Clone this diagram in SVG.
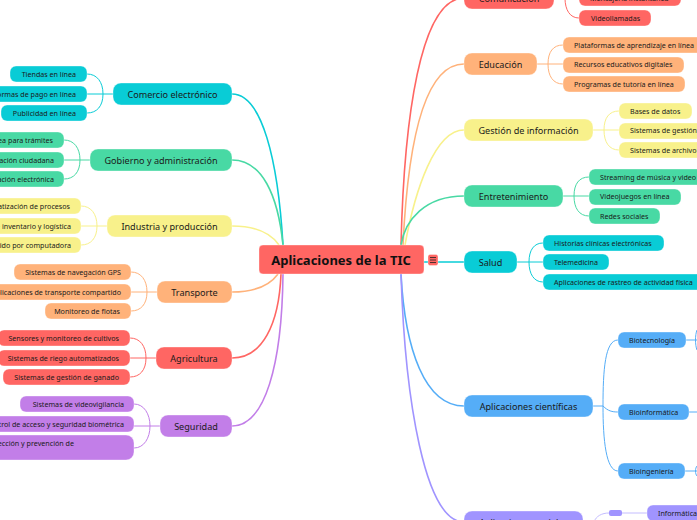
<svg xmlns="http://www.w3.org/2000/svg" width="697" height="520" viewBox="0 0 697 520">
<style>
text{font-family:"Noto Sans","Open Sans",sans-serif;fill:#1a1a1a}
.m{font-size:9.1px;text-anchor:middle}
.sl{font-size:7.15px;text-anchor:start}
.se{font-size:7.15px;text-anchor:end}
.r{stroke:#fff;stroke-opacity:.35;stroke-width:1}
.c{fill:none;stroke-width:1.6}
.t{fill:none;stroke-width:1}
.red{fill:#ff6663}.org{fill:#ffb27a}.yel{fill:#f8f18b}.grn{fill:#48d9a4}.cya{fill:#09ccd6}.blu{fill:#55adf7}.pur{fill:#a094ff}.vio{fill:#c27ee8}
</style>
<g id="connectors">
<g class="c">
<path d="M283 245C278 160 262 94 232 94" stroke="#09ccd6"/>
<path d="M283 245C278 195 262 160 232 160" stroke="#48d9a4"/>
<path d="M279 245C270 232 255 226 232 226" stroke="#f8f18b"/>
<path d="M278 274C270 285 255 292 232 292" stroke="#ffb27a"/>
<path d="M281 274C279 325 262 358 232 358" stroke="#ff6663"/>
<path d="M283 274C282 365 265 426 232 426" stroke="#c27ee8"/>
<path d="M401 245C404 120 420 -2 464 -2" stroke="#ff6663"/>
<path d="M403 245C408 140 425 64 464 64" stroke="#ffb27a"/>
<path d="M405 245C415 190 435 130 464 130" stroke="#f8f18b"/>
<path d="M401 245C405 220 425 196 464 196" stroke="#48d9a4"/>
<path d="M424 262H464" stroke="#09ccd6"/>
<path d="M401 274C405 350 425 406 464 406" stroke="#55adf7"/>
<path d="M401 274C405 400 425 522 464 522" stroke="#a094ff"/>
</g>
<g class="t" stroke="#09ccd6">
<path d="M113 94H87M103 94C103 82 97 74 87 74M103 94C103 106 97 113 87 113"/>
<path d="M517 262H543M529 262C529 250 534 243 543 243M529 262C529 274 534 282 543 282"/>
</g>
<g class="t" stroke="#48d9a4">
<path d="M90 160H64M80 160C80 148 74 140 64 140M80 160C80 172 74 179 64 179"/>
<path d="M563 196H589M574 196C574 184 579 177 589 177M574 196C574 208 579 216 589 216"/>
</g>
<g class="t" stroke="#f8f18b">
<path d="M107 226H81M97 226C97 214 91 206 81 206M97 226C97 238 91 245 81 245"/>
<path d="M593 130H619M604 130C604 118 609 111 619 111M604 130C604 142 609 150 619 150"/>
</g>
<g class="t" stroke="#ffb27a">
<path d="M157 292H131M147 292C147 280 141 272 131 272M147 292C147 304 141 311 131 311"/>
<path d="M537 64H563M548 64C548 52 553 45 563 45M548 64C548 76 553 84 563 84"/>
</g>
<g class="t" stroke="#ff6663">
<path d="M156 358H130M146 358C146 346 140 338 130 338M146 358C146 370 140 377 130 377"/>
<path d="M554 -2H565C565 10 570 18 579 18"/>
</g>
<g class="t" stroke="#c27ee8">
<path d="M160 426H134M150 426C150 414 144 404 134 404M150 426C150 438 144 448 134 448"/>
</g>
<g class="t" stroke="#55adf7">
<path d="M593 406H603M603 406C603 370 605 340 618 340M603 406C608 411 612 412 618 412M603 406C603 440 606 471 618 471"/>
<path d="M686 340H697M689 412H697M685 471H697M697 330C695 335 695 345 697 350M697 466C695 468 695 474 697 476"/>
</g>
<g class="t" stroke="#c4bdff">
<path d="M583 522H594C596 516 602 513 609 513M622 513H647"/>
</g>
</g>
<g id="n-central"><rect x="259" y="245" width="165" height="29" rx="4" class="red r"/><text x="341" y="265" text-anchor="middle" style="font-size:13px;font-weight:700;fill:#111">Aplicaciones de la TIC</text></g>
<g id="n-menu"><rect x="428" y="254.500" width="10" height="11" rx="2" class="red r"/><path d="M430 257.500H436M430 260H436M430 262.500H436" stroke="#222" stroke-width=".8"/></g>

<g id="n-comercio"><rect x="113" y="83" width="119" height="22" rx="8" class="cya r"/><text x="172.500" y="98" class="m">Comercio electrónico</text></g>
<g id="n-tiendas"><rect x="10" y="66" width="77" height="16" rx="6" class="cya r"/><text x="76" y="77" class="se">Tiendas en línea</text></g>
<g id="n-pago"><rect x="-20" y="86" width="107" height="16" rx="6" class="cya r"/><text x="76" y="97" class="se">Plataformas de pago en línea</text></g>
<g id="n-publi"><rect x="1" y="105" width="86" height="16" rx="6" class="cya r"/><text x="76" y="116" class="se">Publicidad en línea</text></g>

<g id="n-gobierno"><rect x="90" y="149" width="142" height="22" rx="8" class="grn r"/><text x="161" y="164" class="m">Gobierno y administración</text></g>
<g id="n-g1"><rect x="-60" y="132" width="124" height="16" rx="6" class="grn r"/><text x="53" y="143" class="se">Servicios en línea para trámites</text></g>
<g id="n-g2"><rect x="-60" y="152" width="124" height="16" rx="6" class="grn r"/><text x="54" y="163" class="se">Participación ciudadana</text></g>
<g id="n-g3"><rect x="-60" y="171" width="124" height="16" rx="6" class="grn r"/><text x="54" y="182" class="se">Votación electrónica</text></g>

<g id="n-industria"><rect x="107" y="215" width="125" height="22" rx="8" class="yel r"/><text x="169.500" y="230" class="m">Industria y producción</text></g>
<g id="n-i1"><rect x="-60" y="198" width="141" height="16" rx="6" class="yel r"/><text x="70" y="209" class="se">Automatización de procesos</text></g>
<g id="n-i2"><rect x="-60" y="218" width="141" height="16" rx="6" class="yel r"/><text x="71" y="229" class="se">Gestión de inventario y logística</text></g>
<g id="n-i3"><rect x="-60" y="237" width="141" height="16" rx="6" class="yel r"/><text x="71" y="248" class="se">Diseño asistido por computadora</text></g>

<g id="n-transporte"><rect x="157" y="281" width="75" height="22" rx="8" class="org r"/><text x="194.500" y="296" class="m">Transporte</text></g>
<g id="n-t1"><rect x="14" y="264" width="117" height="16" rx="6" class="org r"/><text x="121" y="275" class="se">Sistemas de navegación GPS</text></g>
<g id="n-t2"><rect x="-60" y="284" width="191" height="16" rx="6" class="org r"/><text x="121" y="295" class="se">Aplicaciones de transporte compartido</text></g>
<g id="n-t3"><rect x="45" y="303" width="86" height="16" rx="6" class="org r"/><text x="120" y="314" class="se">Monitoreo de flotas</text></g>

<g id="n-agricultura"><rect x="156" y="347" width="76" height="22" rx="8" class="red r"/><text x="194" y="362" class="m">Agricultura</text></g>
<g id="n-a1"><rect x="-2" y="330" width="132" height="16" rx="6" class="red r"/><text x="119" y="341" class="se">Sensores y monitoreo de cultivos</text></g>
<g id="n-a2"><rect x="-2" y="350" width="132" height="16" rx="6" class="red r"/><text x="119" y="361" class="se">Sistemas de riego automatizados</text></g>
<g id="n-a3"><rect x="3" y="369" width="127" height="16" rx="6" class="red r"/><text x="119" y="380" class="se">Sistemas de gestión de ganado</text></g>

<g id="n-seguridad"><rect x="160" y="415" width="72" height="22" rx="8" class="vio r"/><text x="196" y="430" class="m">Seguridad</text></g>
<g id="n-s1"><rect x="20" y="396" width="114" height="16" rx="6" class="vio r"/><text x="124" y="407" class="se">Sistemas de videovigilancia</text></g>
<g id="n-s2"><rect x="-60" y="416" width="194" height="16" rx="6" class="vio r"/><text x="124" y="427" class="se">Control de acceso y seguridad biométrica</text></g>
<g id="n-s3"><rect x="-60" y="435" width="194" height="25" rx="8" class="vio r"/><text x="74" y="446" class="se">Sistemas de detección y prevención de</text></g>

<g id="n-comunicacion"><rect x="464" y="-13" width="90" height="22" rx="8" class="red r"/><text x="509" y="2" class="m">Comunicación</text></g>
<g id="n-c1"><rect x="579" y="-10" width="102" height="16" rx="6" class="red r"/><text x="590" y="1" class="sl">Mensajería instantánea</text></g>
<g id="n-c2"><rect x="579" y="10" width="72" height="16" rx="6" class="red r"/><text x="591" y="21" class="sl">Videollamadas</text></g>

<g id="n-educacion"><rect x="464" y="53" width="73" height="22" rx="8" class="org r"/><text x="500.500" y="68" class="m">Educación</text></g>
<g id="n-e1"><rect x="563" y="37" width="160" height="16" rx="6" class="org r"/><text x="574" y="48" class="sl">Plataformas de aprendizaje en línea</text></g>
<g id="n-e2"><rect x="563" y="57" width="121" height="16" rx="6" class="org r"/><text x="574" y="67" class="sl">Recursos educativos digitales</text></g>
<g id="n-e3"><rect x="563" y="76" width="122" height="16" rx="6" class="org r"/><text x="574" y="87" class="sl">Programas de tutoría en línea</text></g>

<g id="n-gestion"><rect x="464" y="119" width="129" height="22" rx="8" class="yel r"/><text x="528.500" y="134" class="m">Gestión de información</text></g>
<g id="n-d1"><rect x="619" y="103" width="73" height="16" rx="6" class="yel r"/><text x="630" y="114" class="sl">Bases de datos</text></g>
<g id="n-d2"><rect x="619" y="123" width="140" height="16" rx="6" class="yel r"/><text x="630" y="133" class="sl">Sistemas de gestión</text></g>
<g id="n-d3"><rect x="619" y="142" width="140" height="16" rx="6" class="yel r"/><text x="630" y="153" class="sl">Sistemas de archivo</text></g>

<g id="n-entre"><rect x="464" y="185" width="99" height="22" rx="8" class="grn r"/><text x="513.500" y="200" class="m">Entretenimiento</text></g>
<g id="n-en1"><rect x="589" y="169" width="150" height="16" rx="6" class="grn r"/><text x="600" y="180" class="sl">Streaming de música y video</text></g>
<g id="n-en2"><rect x="589" y="189" width="92" height="16" rx="6" class="grn r"/><text x="600" y="199" class="sl">Videojuegos en línea</text></g>
<g id="n-en3"><rect x="589" y="208" width="71" height="16" rx="6" class="grn r"/><text x="600" y="219" class="sl">Redes sociales</text></g>

<g id="n-salud"><rect x="464" y="251" width="53" height="22" rx="8" class="cya r"/><text x="490.500" y="266" class="m">Salud</text></g>
<g id="n-sa1"><rect x="543" y="235" width="121" height="16" rx="6" class="cya r"/><text x="554" y="246" class="sl">Historias clínicas electrónicas</text></g>
<g id="n-sa2"><rect x="543" y="254" width="66" height="16" rx="6" class="cya r"/><text x="554" y="265" class="sl">Telemedicina</text></g>
<g id="n-sa3"><rect x="543" y="274" width="170" height="16" rx="6" class="cya r"/><text x="554" y="285" class="sl">Aplicaciones de rastreo de actividad física</text></g>

<g id="n-cient"><rect x="464" y="395" width="129" height="22" rx="8" class="blu r"/><text x="528.500" y="410" class="m">Aplicaciones científicas</text></g>
<g id="n-b1"><rect x="618" y="332" width="68" height="16" rx="6" class="blu r"/><text x="629" y="343" class="sl">Biotecnología</text></g>
<g id="n-b2"><rect x="618" y="404" width="71" height="16" rx="6" class="blu r"/><text x="629" y="415" class="sl">Bioinformática</text></g>
<g id="n-b3"><rect x="618" y="463" width="67" height="16" rx="6" class="blu r"/><text x="629" y="474" class="sl">Bioingeniería</text></g>

<g id="n-sociales"><rect x="464" y="511" width="119" height="22" rx="8" class="pur r"/><text x="523.500" y="526" class="m">Aplicaciones sociales</text></g>
<g id="n-small"><rect x="609" y="510" width="13" height="6" rx="2" class="pur"/></g>
<g id="n-info"><rect x="647" y="505" width="70" height="16" rx="6" class="pur r"/><text x="658" y="516" class="sl">Informática</text></g>
</svg>
